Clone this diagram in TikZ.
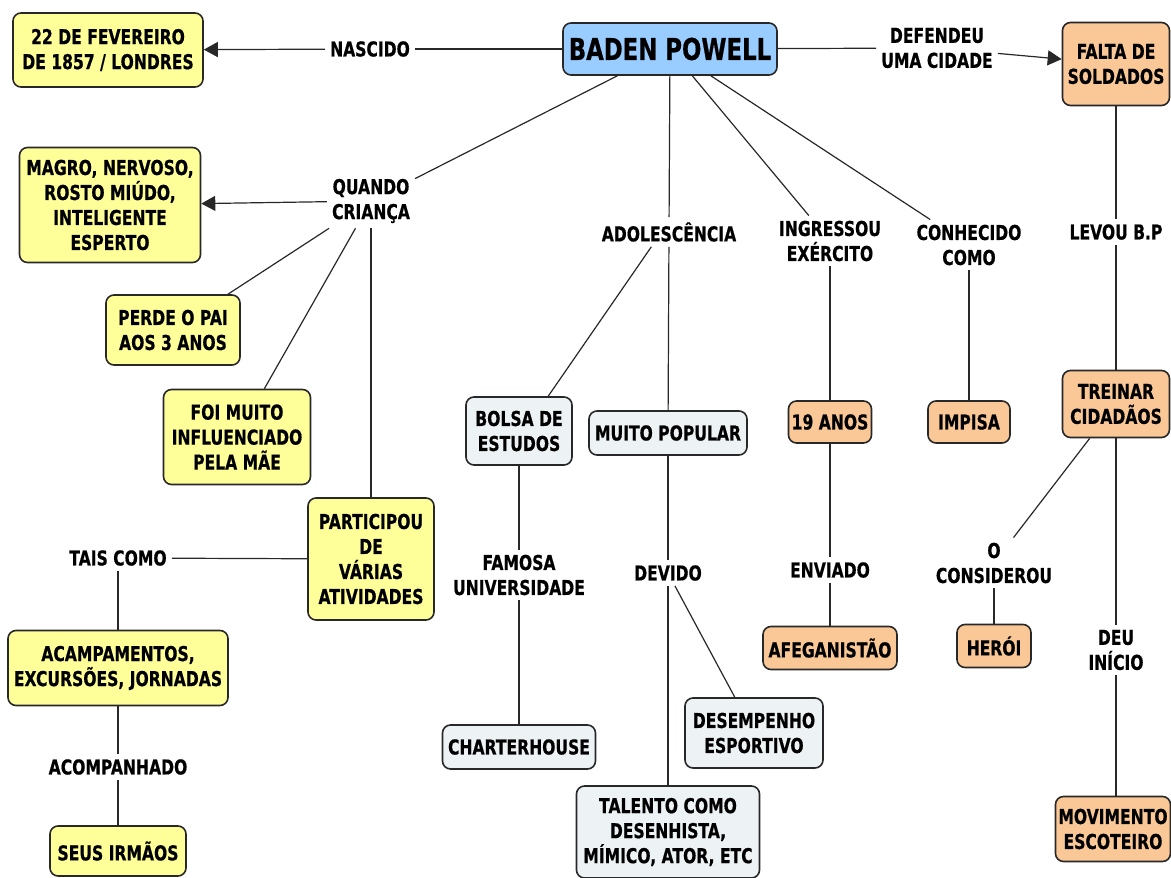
\documentclass[tikz,border=0pt]{standalone}
\usepackage{fontspec}
\newfontfamily\dfont{DejaVu Sans}[FakeStretch=0.76,FakeBold=0.6]
\usetikzlibrary{arrows.meta}
\definecolor{ycol}{RGB}{255,255,153}
\definecolor{bcol}{RGB}{153,204,255}
\definecolor{ocol}{RGB}{250,200,150}
\definecolor{gcol}{RGB}{237,242,244}
\definecolor{edge}{RGB}{40,40,40}
\tikzset{
  x=1pt, y=-1pt,
  txt/.style={font=\dfont\bfseries\fontsize{20.5}{25}\selectfont, align=center},
  box/.style={txt, draw=edge, line width=1.6pt, rounded corners=8pt, inner sep=0pt},
  ybox/.style={box, fill=ycol},
  obox/.style={box, fill=ocol},
  gbox/.style={box, fill=gcol},
  bbox/.style={box, fill=bcol},
  lbl/.style={txt, inner sep=5pt},
  conn/.style={draw=edge, line width=1.2pt},
  arr/.style={conn, -{Triangle[length=14pt,width=15pt]}},
}
\begin{document}
\begin{tikzpicture}
\path[use as bounding box] (0,0) rectangle (1171,878);
% main
\node[bbox, minimum width=214pt, minimum height=52pt, font=\dfont\bfseries\fontsize{30}{34}\selectfont] (bp) at (670,49) {BADEN POWELL};
% yellow
\node[ybox, minimum width=190pt, minimum height=74pt] (fev) at (108,50) {22 DE FEVEREIRO\\DE 1857 / LONDRES};
\node[ybox, minimum width=181pt, minimum height=115pt] (magro) at (110,205) {MAGRO, NERVOSO,\\ROSTO MIÚDO,\\INTELIGENTE\\ESPERTO};
\node[ybox, minimum width=134pt, minimum height=70pt] (perde) at (173,330) {PERDE O PAI\\AOS 3 ANOS};
\node[ybox, minimum width=147pt, minimum height=95pt] (foi) at (237,437) {FOI MUITO\\INFLUENCIADO\\PELA MÃE};
\node[ybox, minimum width=126pt, minimum height=122pt] (part) at (371,559) {PARTICIPOU\\DE\\VÁRIAS\\ATIVIDADES};
\node[ybox, minimum width=220pt, minimum height=75pt] (acamp) at (118,668) {ACAMPAMENTOS,\\EXCURSÕES, JORNADAS};
\node[ybox, minimum width=136pt, minimum height=50pt] (seus) at (118,851) {SEUS IRMÃOS};
% gray
\node[gbox, minimum width=106pt, minimum height=68pt] (bolsa) at (519,431) {BOLSA DE\\ESTUDOS};
\node[gbox, minimum width=158pt, minimum height=44pt] (popular) at (668,433) {MUITO POPULAR};
\node[gbox, minimum width=153pt, minimum height=44pt] (charter) at (519,747) {CHARTERHOUSE};
\node[gbox, minimum width=138pt, minimum height=70pt] (desemp) at (754,733) {DESEMPENHO\\ESPORTIVO};
\node[gbox, minimum width=183pt, minimum height=92pt] (talento) at (668,832) {TALENTO COMO\\DESENHISTA,\\MÍMICO, ATOR, ETC};
% orange
\node[obox, minimum width=107pt, minimum height=83pt] (falta) at (1116,64) {FALTA DE\\SOLDADOS};
\node[obox, minimum width=83pt, minimum height=42pt] (anos) at (830,422) {19 ANOS};
\node[obox, minimum width=134pt, minimum height=43pt] (afeg) at (830,648) {AFEGANISTÃO};
\node[obox, minimum width=82pt, minimum height=42pt] (impisa) at (969,422) {IMPISA};
\node[obox, minimum width=107pt, minimum height=67pt] (treinar) at (1116,404) {TREINAR\\CIDADÃOS};
\node[obox, minimum width=74pt, minimum height=43pt] (heroi) at (994,646) {HERÓI};
\node[obox, minimum width=115pt, minimum height=65pt] (movim) at (1113,829) {MOVIMENTO\\ESCOTEIRO};
% labels
\node[lbl] (nasc) at (370,49) {NASCIDO};
\node[lbl] (defend) at (937,48) {DEFENDEU\\UMA CIDADE};
\node[lbl] (quando) at (371,201) {QUANDO\\CRIANÇA};
\node[lbl] (adol) at (669,232) {ADOLESCÊNCIA};
\node[lbl] (ingr) at (830,241) {INGRESSOU\\EXÉRCITO};
\node[lbl] (conh) at (969,245) {CONHECIDO\\COMO};
\node[lbl] (levou) at (1116,232) {LEVOU B.P};
\node[lbl] (tais) at (118,558) {TAIS COMO};
\node[lbl] (acomp) at (118,767) {ACOMPANHADO};
\node[lbl] (famosa) at (519,575) {FAMOSA\\UNIVERSIDADE};
\node[lbl] (devido) at (668,573) {DEVIDO};
\node[lbl] (enviado) at (830,570) {ENVIADO};
\node[lbl] (consid) at (994,563) {O\\CONSIDEROU};
\node[lbl] (deu) at (1116,650) {DEU\\INÍCIO};
% connectors
\draw[conn] (bp) -- (nasc);
\draw[arr] (nasc) -- (fev);
\draw[conn] (bp) -- (defend);
\draw[arr] (defend) -- (falta);
\draw[conn] (bp) -- (quando);
\draw[arr] (quando) -- (magro);
\draw[conn] (quando) -- (perde);
\draw[conn] (quando) -- (foi);
\draw[conn] (quando) -- (part);
\draw[conn] (part) -- (tais);
\draw[conn] (tais) -- (acamp);
\draw[conn] (acamp) -- (acomp);
\draw[conn] (acomp) -- (seus);
\draw[conn] (bp) -- (adol);
\draw[conn] (adol.220) -- (bolsa.50);
\draw[conn] (adol) -- (popular);
\draw[conn] (bolsa) -- (famosa);
\draw[conn] (famosa) -- (charter);
\draw[conn] (popular) -- (devido);
\draw[conn] (devido) -- (talento);
\draw[conn] (devido) -- (desemp);
\draw[conn] (bp) -- (ingr);
\draw[conn] (ingr) -- (anos);
\draw[conn] (anos) -- (enviado);
\draw[conn] (enviado) -- (afeg);
\draw[conn] (bp) -- (conh);
\draw[conn] (conh) -- (impisa);
\draw[conn] (falta) -- (levou);
\draw[conn] (levou) -- (treinar);
\draw[conn] (treinar) -- (consid);
\draw[conn] (consid) -- (heroi);
\draw[conn] (treinar) -- (deu);
\draw[conn] (deu) -- (movim.north -| deu);
\end{tikzpicture}
\end{document}
